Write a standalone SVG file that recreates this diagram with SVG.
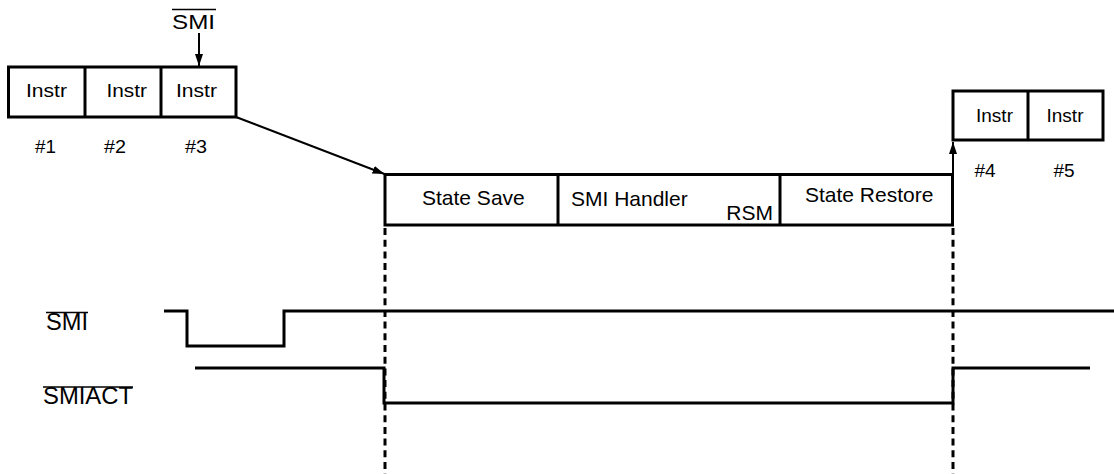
<svg xmlns="http://www.w3.org/2000/svg" width="1114" height="474" viewBox="0 0 1114 474">
<style>
text { font-family: "Liberation Sans", Arial, sans-serif; fill: #000; }
.box { fill: #fff; stroke: #000; stroke-width: 3; }
.div { stroke: #000; stroke-width: 3; }
.sig { fill: none; stroke: #000; stroke-width: 3; }
.dash { stroke: #000; stroke-width: 3; stroke-dasharray: 7 4.7; }
.arr { stroke: #000; stroke-width: 2; fill: none; }
.ovl { stroke: #000; stroke-width: 1.6; }
.s17 { font-size: 19px; }
.s21 { font-size: 21px; }
.s19 { font-size: 19px; }
.s23 { font-size: 23px; }
</style>
<defs>
<marker id="ah" markerUnits="userSpaceOnUse" markerWidth="13" markerHeight="9" refX="12" refY="4" orient="auto">
<path d="M0,0 L12,4 L0,8 z" fill="#000"/>
</marker>
</defs>
<rect width="1114" height="474" fill="#fff"/>

<g id="smi-top-label">
<text x="172" y="29" class="s17" textLength="43" lengthAdjust="spacingAndGlyphs" style="font-size:20px">SMI</text>
<line class="ovl" x1="172" y1="9.5" x2="216" y2="9.5"/>
</g>

<g id="instr-group-1">
<rect class="box" x="8.5" y="67" width="227.5" height="50"/>
<line class="div" x1="85" y1="67" x2="85" y2="117"/>
<line class="div" x1="161" y1="67" x2="161" y2="117"/>
<text x="26" y="97" class="s17" textLength="41" lengthAdjust="spacingAndGlyphs">Instr</text>
<text x="106.5" y="97" class="s17" textLength="40.5" lengthAdjust="spacingAndGlyphs">Instr</text>
<text x="176" y="97" class="s17" textLength="41" lengthAdjust="spacingAndGlyphs">Instr</text>
<text x="35" y="153" class="s17" textLength="21" lengthAdjust="spacingAndGlyphs">#1</text>
<text x="104" y="153" class="s17" textLength="22" lengthAdjust="spacingAndGlyphs">#2</text>
<text x="185" y="153" class="s17" textLength="22" lengthAdjust="spacingAndGlyphs">#3</text>
</g>

<g id="smm-box">
<rect class="box" x="385" y="174.5" width="567.5" height="50.5"/>
<line class="div" x1="558" y1="174.5" x2="558" y2="225"/>
<line class="div" x1="780" y1="174.5" x2="780" y2="225"/>
<text x="422" y="205" class="s21">State Save</text>
<text x="571" y="206" class="s21">SMI Handler</text>
<text x="773" y="220" class="s21" text-anchor="end">RSM</text>
<text x="805" y="202" class="s21">State Restore</text>
</g>

<g id="instr-group-2">
<rect class="box" x="953" y="91" width="150" height="49"/>
<line class="div" x1="1028" y1="91" x2="1028" y2="140"/>
<text x="994.5" y="122" class="s19" text-anchor="middle">Instr</text>
<text x="1065" y="122" class="s19" text-anchor="middle">Instr</text>
<text x="985" y="177" class="s19" text-anchor="middle">#4</text>
<text x="1064" y="177" class="s19" text-anchor="middle">#5</text>
</g>

<g id="signal-labels">
<text x="46" y="330" class="s23" textLength="42" lengthAdjust="spacingAndGlyphs">SMI</text>
<line class="ovl" x1="46" y1="312.5" x2="88" y2="312.5"/>
<text x="43" y="404" class="s23" textLength="90" lengthAdjust="spacingAndGlyphs">SMIACT</text>
<line class="ovl" x1="43" y1="387" x2="133" y2="387"/>
</g>

<g id="connectors">
<line class="arr" x1="199" y1="33" x2="199" y2="66" marker-end="url(#ah)"/>
<line class="arr" x1="236" y1="117" x2="384.5" y2="174" marker-end="url(#ah)"/>
<line class="arr" x1="953" y1="176" x2="953" y2="142" marker-end="url(#ah)"/>
<line class="dash" x1="385" y1="228" x2="385" y2="474"/>
<line class="dash" x1="953" y1="228" x2="953" y2="474"/>
<path class="sig" d="M164 311 H187 V346 H284 V311 H1114"/>
<path class="sig" d="M195 368 H384 V403 H953 V368 H1090"/>
</g>
</svg>
